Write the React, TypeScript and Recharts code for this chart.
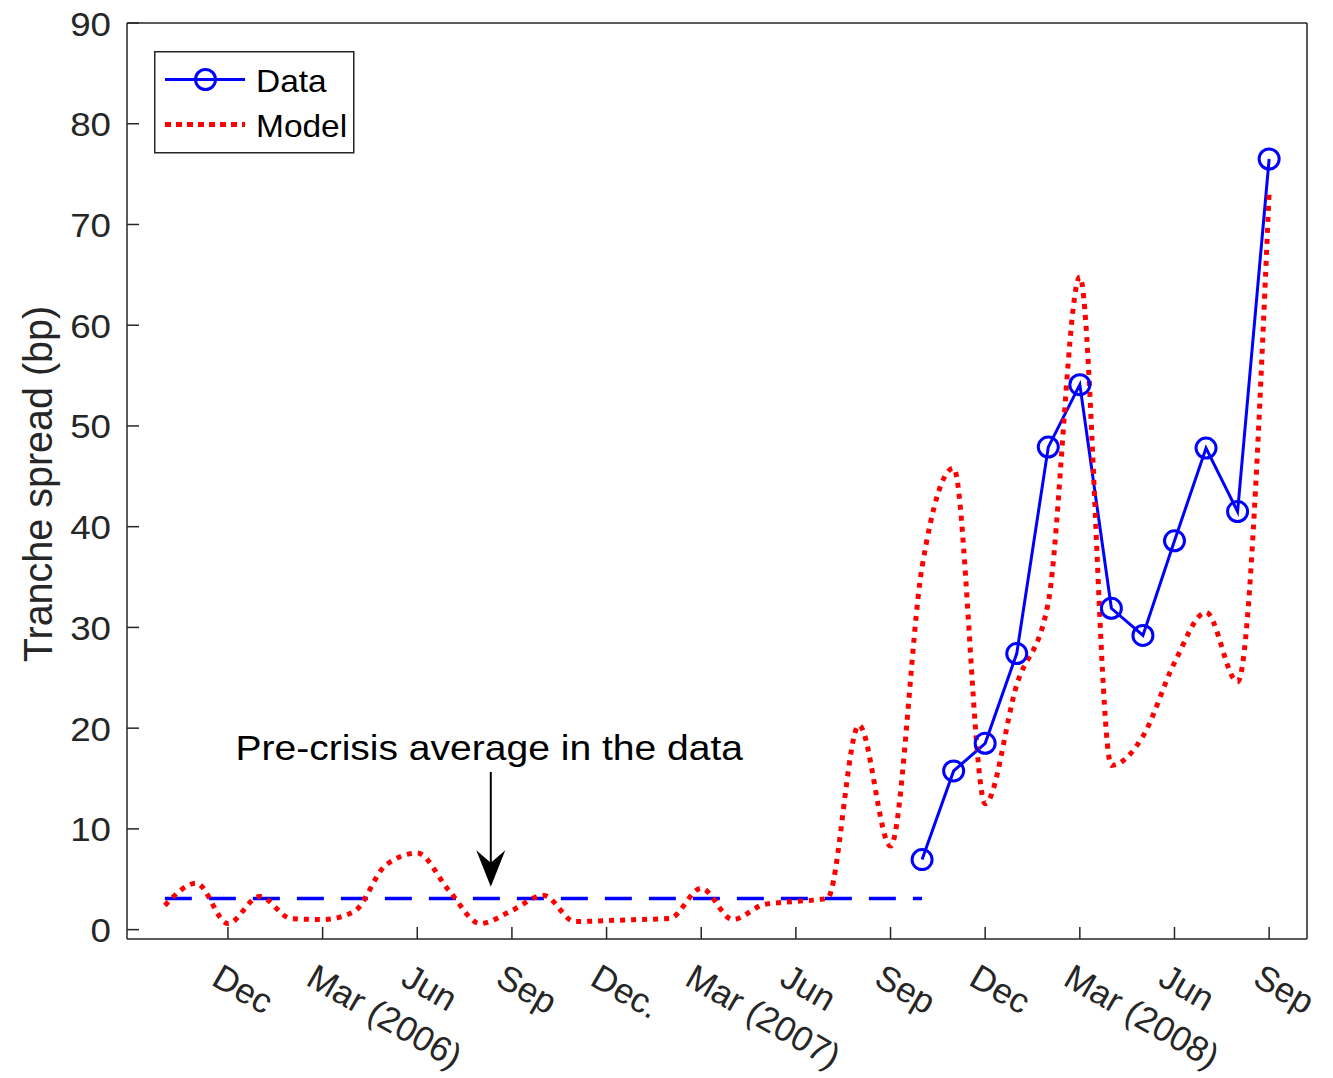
import React from 'react';
import { LineChart, Line, XAxis, YAxis, Legend, ReferenceLine, ReferenceDot } from 'recharts';

const FONT = "'Liberation Sans', Arial, Helvetica, sans-serif";
const INK = '#262626';
const BLUE = '#0000ff';
const RED = '#ff0000';

// monthly grid, Oct 2005 .. Sep 2008 (plotted at their index)
const months = [
  'Oct 2005', 'Nov 2005', 'Dec 2005', 'Jan 2006', 'Feb 2006', 'Mar 2006',
  'Apr 2006', 'May 2006', 'Jun 2006', 'Jul 2006', 'Aug 2006', 'Sep 2006',
  'Oct 2006', 'Nov 2006', 'Dec 2006', 'Jan 2007', 'Feb 2007', 'Mar 2007',
  'Apr 2007', 'May 2007', 'Jun 2007', 'Jul 2007', 'Aug 2007', 'Sep 2007',
  'Oct 2007', 'Nov 2007', 'Dec 2007', 'Jan 2008', 'Feb 2008', 'Mar 2008',
  'Apr 2008', 'May 2008', 'Jun 2008', 'Jul 2008', 'Aug 2008', 'Sep 2008',
];

const modelSpread = [
  2.4, 4.6, 0.6, 3.3, 1.1, 1.0,
  1.8, 6.4, 7.6, 3.9, 0.6, 1.9,
  3.4, 0.8, 0.9, 1.0, 1.1, 4.1,
  1.0, 2.5, 2.8, 3.1, 20.3, 8.3,
  36.0, 45.8, 12.5, 24.3, 32.5, 64.8,
  16.3, 19.2, 26.5, 31.5, 24.6, 73.2,
];

// observed tranche spread, Oct 2007 .. Sep 2008
const dataFirstMonth = 24;
const dataSpread = [6.95, 15.75, 18.5, 27.4, 47.9, 54.1, 31.9, 29.2, 38.6, 47.8, 41.5, 76.5];

const preCrisisAvg = 3.1;
const preCrisisLastMonth = 24;

const xTickMonths = [2, 5, 8, 11, 14, 17, 20, 23, 26, 29, 32, 35];
const xTickLabels = ['Dec', 'Mar (2006)', 'Jun', 'Sep', 'Dec.', 'Mar (2007)', 'Jun', 'Sep', 'Dec', 'Mar (2008)', 'Jun', 'Sep'];
const yTicks = [0, 10, 20, 30, 40, 50, 60, 70, 80, 90];

const noteText = 'Pre-crisis average in the data';
const noteX = 10.28;
const noteY = 16.84;
const arrowX = 10.33;
const arrowTop = 15.65;
const arrowTip = 4.26;

const chartData = months.map((label, i) => ({
  month: i,
  label,
  model: modelSpread[i],
  data: i >= dataFirstMonth ? dataSpread[i - dataFirstMonth] : null,
  avg: i <= preCrisisLastMonth ? preCrisisAvg : null,
}));

function MonthTick({ x, y, payload }: any) {
  const label = xTickLabels[xTickMonths.indexOf(payload.value)];
  return (
    <text
      transform={`translate(${x - 18},${y}) rotate(30)`}
      fontSize={35}
      fontFamily={FONT}
      fill={INK}
      textAnchor="start"
    >
      {label}
    </text>
  );
}

function SpreadTick({ x, y, payload }: any) {
  return (
    <text
      transform={`translate(${x + 1},${y + 12.5}) scale(1.08,1)`}
      fontSize={34}
      fontFamily={FONT}
      fill={INK}
      textAnchor="end"
    >
      {payload.value}
    </text>
  );
}

function YLabel({ viewBox }: any) {
  const cx = viewBox.x + 52;
  const cy = viewBox.y + viewBox.height / 2 + 3;
  return (
    <text
      transform={`translate(${cx},${cy}) rotate(-90) scale(1,1.04)`}
      fontSize={39.5}
      fontFamily={FONT}
      fill={INK}
      textAnchor="middle"
    >
      Tranche spread (bp)
    </text>
  );
}

function LegendBox() {
  return (
    <svg width={201} height={103} style={{ display: 'block' }}>
      <rect x={0.75} y={0.75} width={199} height={101} fill="#fff" stroke={INK} strokeWidth={1.5} />
      <line x1={11} x2={91} y1={28.5} y2={28.5} stroke={BLUE} strokeWidth={3} />
      <circle cx={51.5} cy={28.5} r={10} fill="none" stroke={BLUE} strokeWidth={3} />
      <text transform="translate(102,41) scale(1.08,1)" fontSize={31} fontFamily={FONT} fill="#000">
        Data
      </text>
      <line x1={11} x2={91} y1={73.5} y2={73.5} stroke={RED} strokeWidth={5} strokeDasharray="6 5" />
      <text transform="translate(102,86) scale(1.08,1)" fontSize={31} fontFamily={FONT} fill="#000">
        Model
      </text>
    </svg>
  );
}

const arrowHead = ({ cx, cy }: any) => (
  <path
    d={`M${cx},${cy} L${cx - 14.5},${cy - 36.5} L${cx},${cy - 24} L${cx + 14.5},${cy - 36.5} Z`}
    fill="#000"
  />
);

const noteLabel = ({ cx, cy }: any) => (
  <text
    transform={`translate(${cx},${cy}) scale(1.1,1)`}
    fontSize={35.5}
    fontFamily={FONT}
    fill="#000"
    textAnchor="middle"
  >
    {noteText}
  </text>
);

export default function App() {
  return (
    <div style={{ position: 'absolute', left: 0, top: 0, background: '#fff' }}>
      <LineChart
        width={1333}
        height={1078}
        data={chartData}
        margin={{ top: 22, right: 25, left: 0, bottom: 0 }}
      >
        <XAxis
          dataKey="month"
          type="number"
          domain={[-1.2, 36.2]}
          ticks={xTickMonths}
          height={139}
          tickSize={-12}
          tickMargin={57}
          tick={<MonthTick />}
          axisLine={{ stroke: INK, strokeWidth: 1.5 }}
          tickLine={{ stroke: INK, strokeWidth: 1.5 }}
          allowDataOverflow
        />
        <XAxis
          xAxisId="top"
          orientation="top"
          dataKey="month"
          type="number"
          domain={[-1.2, 36.2]}
          ticks={xTickMonths}
          height={1}
          tickSize={-12}
          tick={false}
          axisLine={{ stroke: INK, strokeWidth: 1.5 }}
          tickLine={{ stroke: INK, strokeWidth: 1.5 }}
          allowDataOverflow
        />
        <YAxis
          type="number"
          domain={[-0.93, 90]}
          ticks={yTicks}
          width={127}
          tickSize={-12}
          tickMargin={29}
          tick={<SpreadTick />}
          axisLine={{ stroke: INK, strokeWidth: 1.5 }}
          tickLine={{ stroke: INK, strokeWidth: 1.5 }}
          label={<YLabel />}
          allowDataOverflow
        />
        <YAxis
          yAxisId="right"
          orientation="right"
          type="number"
          domain={[-0.93, 90]}
          ticks={yTicks}
          width={1}
          tickSize={-12}
          tick={false}
          axisLine={{ stroke: INK, strokeWidth: 1.5 }}
          tickLine={{ stroke: INK, strokeWidth: 1.5 }}
          allowDataOverflow
        />
        <Legend
          layout="vertical"
          align="center"
          verticalAlign="middle"
          content={<LegendBox />}
          wrapperStyle={{ left: 154, top: 51, width: 201, height: 103 }}
        />
        <Line
          dataKey="avg"
          stroke={BLUE}
          strokeWidth={3.5}
          strokeDasharray="27 17"
          dot={false}
          activeDot={false}
          isAnimationActive={false}
          legendType="none"
        />
        <Line
          dataKey="data"
          name="Data"
          stroke={BLUE}
          strokeWidth={3}
          dot={{ r: 10, stroke: BLUE, strokeWidth: 3, fill: 'none' }}
          activeDot={false}
          isAnimationActive={false}
        />
        <Line
          dataKey="model"
          name="Model"
          type="monotone"
          stroke={RED}
          strokeWidth={5}
          strokeDasharray="5 6"
          dot={false}
          activeDot={false}
          isAnimationActive={false}
        />
        <ReferenceLine
          segment={[{ x: arrowX, y: arrowTop }, { x: arrowX, y: arrowTip + 2.2 }]}
          stroke="#000"
          strokeWidth={2}
        />
        <ReferenceDot x={arrowX} y={arrowTip} shape={arrowHead} />
        <ReferenceDot x={noteX} y={noteY} shape={noteLabel} />
      </LineChart>
    </div>
  );
}
